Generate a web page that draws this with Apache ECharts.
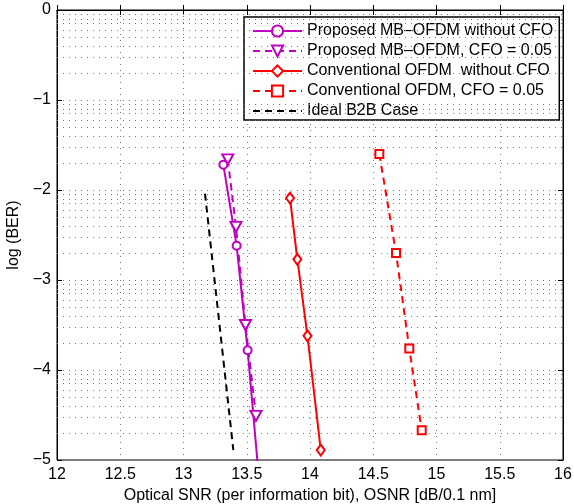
<!DOCTYPE html>
<html>
<head>
<meta charset="UTF-8" />
<title>log (BER) vs OSNR</title>
<script src="https://cdn.jsdelivr.net/npm/echarts@6/dist/echarts.min.js"></script>
</head>
<body style="margin:0;padding:0;background:#fff;">
<div id="chart" style="width:574px;height:504px;"></div>
<script>
// series names (legend order)
const seriesNames = [
	'Proposed MB\u2013OFDM without CFO',
	'Proposed MB\u2013OFDM, CFO = 0.05',
	'Conventional OFDM  without CFO',
	'Conventional OFDM, CFO = 0.05',
	'Ideal B2B Case'
];

// [OSNR, log(BER)]
const propNoCfo = [[13.315, -1.72], [13.42, -2.62], [13.507, -3.78], [13.596, -5.2]];
const propCfo = [[13.35, -1.66], [13.415, -2.41], [13.49, -3.5], [13.573, -4.51]];
const convNoCfo = [[13.842, -2.09], [13.90, -2.77], [13.98, -3.62], [14.085, -4.89]];
const convCfo = [[14.548, -1.6], [14.68, -2.70], [14.785, -3.76], [14.883, -4.67]];
const idealB2B = [[13.17, -2.04], [13.394, -4.89]];

// decades of the (log) y axis, minor grid at log10(2..9) inside each one
const decades = [-5, -4, -3, -2, -1];
const minorSteps = [2, 3, 4, 5, 6, 7, 8, 9];

const magenta = '#bf00bf';
const red = '#ff0000';
const font = 'Liberation Sans, Arial, Helvetica, sans-serif';
const dotted = {color: '#777', width: 1, type: [1, 5]};

const minorLines = [];
decades.forEach(function(d) {
	minorSteps.forEach(function(k) {
		minorLines.push({yAxis: d + Math.log10(k)});
	});
});

function fmtMinus(v) {
	return v < 0 ? '\u2212' + Math.abs(v) : String(v);
}

// legend entries, the B2B one has no marker
const legendData = seriesNames.map(function(n, i) {
	if (i === 4) {
		return {name: n, itemStyle: {color: 'transparent', borderColor: 'transparent', opacity: 0}};
	}
	return {name: n};
});

const chart = echarts.init(document.getElementById('chart'));
chart.setOption({
	animation: false,
	backgroundColor: '#fff',
	textStyle: {fontFamily: font},
	grid: {
		left: 57, right: 11, top: 10, bottom: 44,
		outerBoundsMode: 'none',
		show: true, borderColor: '#000', borderWidth: 1, backgroundColor: 'transparent'
	},
	legend: {
		data: legendData,
		orient: 'vertical',
		left: 244,
		top: 17,
		itemWidth: 49,
		itemHeight: 14,
		itemGap: 4,
		padding: [6, 6, 1, 8],
		backgroundColor: '#fff',
		borderColor: '#000',
		borderWidth: 1.5,
		borderRadius: 0,
		textStyle: {fontFamily: font, fontSize: 16, color: '#000'}
	},
	xAxis: [{
		type: 'value',
		min: 12, max: 16, interval: 0.5,
		name: 'Optical SNR (per information bit), OSNR [dB/0.1 nm]',
		nameLocation: 'middle',
		nameGap: 26,
		nameTextStyle: {fontFamily: font, fontSize: 16, color: '#000'},
		axisLine: {lineStyle: {color: '#000', width: 1}},
		axisTick: {inside: true, length: 5, lineStyle: {color: '#000'}},
		axisLabel: {fontFamily: font, fontSize: 16, color: '#000', margin: 7},
		splitLine: {show: true, lineStyle: dotted}
	}, {
		type: 'value', position: 'top',
		min: 12, max: 16, interval: 0.5,
		axisLine: {show: true, lineStyle: {color: '#000'}},
		axisTick: {inside: true, length: 5, lineStyle: {color: '#000'}},
		axisLabel: {show: false},
		splitLine: {show: false}
	}],
	yAxis: [{
		type: 'value',
		min: -5, max: 0, interval: 1,
		name: 'log (BER)',
		nameLocation: 'middle',
		nameGap: 32,
		nameTextStyle: {fontFamily: font, fontSize: 16, color: '#000'},
		axisLine: {lineStyle: {color: '#000', width: 1}},
		axisTick: {inside: true, length: 5, lineStyle: {color: '#000'}},
		axisLabel: {fontFamily: font, fontSize: 16, color: '#000', margin: 6, formatter: fmtMinus},
		splitLine: {show: true, lineStyle: dotted}
	}, {
		type: 'value', position: 'right',
		min: -5, max: 0, interval: 1,
		axisLine: {show: true, lineStyle: {color: '#000'}},
		axisTick: {inside: true, length: 5, lineStyle: {color: '#000'}},
		axisLabel: {show: false},
		splitLine: {show: false}
	}],
	series: [{
		name: 'minor grid',
		type: 'line',
		data: [],
		silent: true,
		markLine: {
			silent: true,
			symbol: ['none', 'none'],
			label: {show: false},
			lineStyle: dotted,
			emphasis: {disabled: true},
			data: minorLines
		}
	}, {
		name: seriesNames[0],
		type: 'line',
		data: propNoCfo,
		clip: true,
		symbol: 'emptyCircle',
		symbolSize: 8,
		lineStyle: {color: magenta, width: 2},
		itemStyle: {color: magenta, borderWidth: 2},
		z: 5
	}, {
		name: seriesNames[1],
		type: 'line',
		data: propCfo,
		clip: true,
		symbol: 'emptyTriangle',
		symbolRotate: 180,
		symbolSize: [11, 10],
		lineStyle: {color: magenta, width: 2, type: [7, 5]},
		itemStyle: {color: magenta, borderWidth: 2},
		z: 5
	}, {
		name: seriesNames[2],
		type: 'line',
		data: convNoCfo,
		clip: true,
		symbol: 'emptyDiamond',
		symbolSize: [8, 11],
		lineStyle: {color: red, width: 2},
		itemStyle: {color: red, borderWidth: 2},
		z: 5
	}, {
		name: seriesNames[3],
		type: 'line',
		data: convCfo,
		clip: true,
		symbol: 'emptyRect',
		symbolSize: 8,
		lineStyle: {color: red, width: 2, type: [7, 5]},
		itemStyle: {color: red, borderWidth: 2},
		z: 5
	}, {
		name: seriesNames[4],
		type: 'line',
		data: idealB2B,
		clip: true,
		symbol: 'none',
		lineStyle: {color: '#000', width: 2, type: [7, 5]},
		itemStyle: {color: '#000'},
		z: 5
	}]
});
</script>
</body>
</html>
